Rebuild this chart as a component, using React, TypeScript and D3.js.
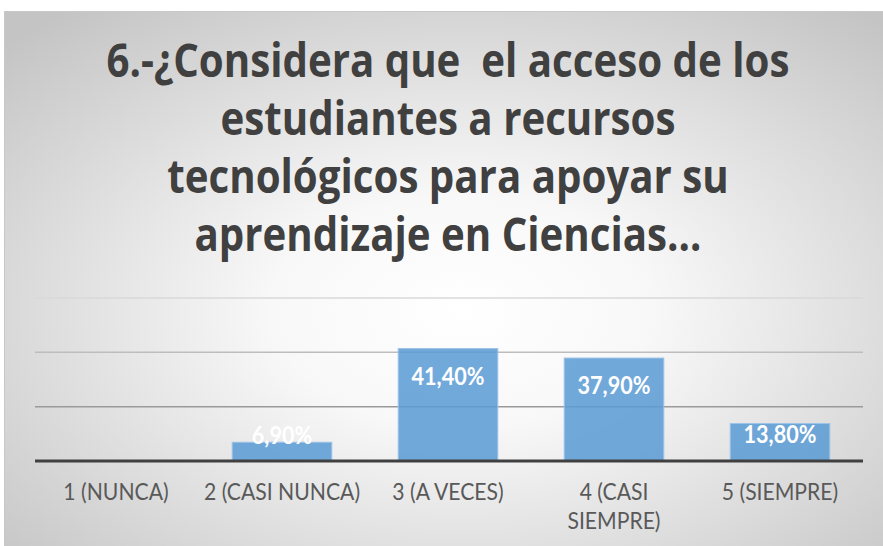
import React, { useEffect, useRef } from "react";
import * as d3 from "d3";

const titleLines = [
  "6.-¿Considera que  el acceso de los",
  "estudiantes a recursos",
  "tecnológicos para apoyar su",
  "aprendizaje en Ciencias…",
];
const categories = ["1 (NUNCA)", "2 (CASI NUNCA)", "3 (A VECES)", "4 (CASI SIEMPRE)", "5 (SIEMPRE)"];
const values = [0, 6.9, 41.4, 37.9, 13.8];
const yTicks = [20, 40, 60];

const W = 883;
const H = 546;
const CONDENSE = 0.9;
const TITLE_FIRST_WIDTH = 683;

function fmt(v: number) {
  return v.toFixed(2).replace(".", ",") + "%";
}

export default function App() {
  const ref = useRef<SVGSVGElement>(null);

  useEffect(() => {
    const svg = d3.select(ref.current);
    svg.selectAll("*").remove();

    const defs = svg.append("defs");
    const rg = defs
      .append("radialGradient")
      .attr("id", "bg")
      .attr("cx", "0.52")
      .attr("cy", "0.56")
      .attr("r", "0.72");
    rg.append("stop").attr("offset", "0").attr("stop-color", "#ffffff");
    rg.append("stop").attr("offset", "0.3").attr("stop-color", "#f8f8f8");
    rg.append("stop").attr("offset", "1").attr("stop-color", "#c4c4c4");

    svg
      .append("rect")
      .attr("x", 4.5)
      .attr("y", 11.5)
      .attr("width", W - 4)
      .attr("height", H - 10)
      .attr("fill", "url(#bg)")
      .attr("stroke", "#c8c8c8")
      .attr("stroke-width", 1);

    const condense = (sel: d3.Selection<SVGTextElement, any, any, any>, k = CONDENSE) => {
      sel.each(function () {
        const t = this as SVGTextElement;
        const w = t.getComputedTextLength();
        t.setAttribute("textLength", String(w * k));
        t.setAttribute("lengthAdjust", "spacingAndGlyphs");
      });
    };

    // title
    const title = svg
      .append("g")
      .selectAll("text")
      .data(titleLines)
      .join("text")
      .attr("x", 448)
      .attr("y", (_, i) => 77 + i * 58)
      .attr("text-anchor", "middle")
      .attr("font-family", "'Open Sans', Lato, sans-serif")
      .attr("font-weight", 700)
      .attr("font-size", 46)
      .attr("fill", "#404040")
      .style("white-space", "pre")
      .text((d) => d);
    const firstW = (title.nodes()[0] as SVGTextElement).getComputedTextLength();
    condense(title as any, TITLE_FIRST_WIDTH / firstW);

    const x = d3.scaleBand<string>().domain(categories).range([33, 863]).paddingInner(0.4).paddingOuter(0.2);
    const y = d3.scaleLinear().domain([0, 60]).range([461, 298]);

    const gridColors = ["#9a9a9a", "#bdbdbd", "#d9d9d9"];
    svg
      .append("g")
      .selectAll("line")
      .data(yTicks)
      .join("line")
      .attr("x1", 35)
      .attr("x2", 863)
      .attr("y1", (d) => y(d))
      .attr("y2", (d) => y(d))
      .attr("stroke", (_, i) => gridColors[i])
      .attr("stroke-width", 1.5);

    const data = categories.map((c, i) => ({ c, v: values[i] }));

    svg
      .append("g")
      .selectAll("rect")
      .data(data.filter((d) => d.v > 0))
      .join("rect")
      .attr("x", (d) => x(d.c)!)
      .attr("y", (d) => y(d.v))
      .attr("width", x.bandwidth())
      .attr("height", (d) => y(0) - y(d.v))
      .attr("fill", "#5b9bd5")
      .attr("fill-opacity", 0.86)
      .attr("stroke", "#9dc3e6")
      .attr("stroke-width", 1);

    // baseline
    svg
      .append("line")
      .attr("x1", 35)
      .attr("x2", 863)
      .attr("y1", y(0))
      .attr("y2", y(0))
      .attr("stroke", "#404040")
      .attr("stroke-width", 3);

    // data labels
    const dl = svg
      .append("g")
      .selectAll("text")
      .data(data.filter((d) => d.v > 0))
      .join("text")
      .attr("x", (d) => x(d.c)! + x.bandwidth() / 2)
      .attr("y", (d) => {
        const h = y(0) - y(d.v);
        return y(d.v) + Math.min(36, Math.max(2, h - 18));
      })
      .attr("text-anchor", "middle")
      .attr("font-family", "Lato, 'Open Sans', sans-serif")
      .attr("font-weight", 700)
      .attr("font-size", 24)
      .attr("fill", "#ffffff")
      .text((d) => fmt(d.v));
    condense(dl as any);

    // axis labels with wrapping
    const maxW = x.step() - 6;
    const ax = svg.append("g");
    categories.forEach((c) => {
      const cx = x(c)! + x.bandwidth() / 2;
      const mk = (txt: string, yy: number) =>
        ax
          .append("text")
          .attr("x", cx)
          .attr("y", yy)
          .attr("text-anchor", "middle")
          .attr("font-family", "Lato, 'Open Sans', sans-serif")
          .attr("font-size", 23.5)
          .attr("fill", "#595959")
          .text(txt);
      const t = mk(c, 500);
      const w = (t.node() as SVGTextElement).getComputedTextLength() * CONDENSE;
      if (w > maxW) {
        t.remove();
        const words = c.split(" ");
        const l1 = words.slice(0, -1).join(" ");
        const l2 = words[words.length - 1];
        condense(mk(l1, 500) as any);
        condense(mk(l2, 529) as any);
      } else {
        condense(t as any);
      }
    });
  }, []);

  return (
    <svg
      ref={ref}
      width={W}
      height={H}
      style={{ position: "absolute", left: 0, top: 0, display: "block" }}
    />
  );
}
